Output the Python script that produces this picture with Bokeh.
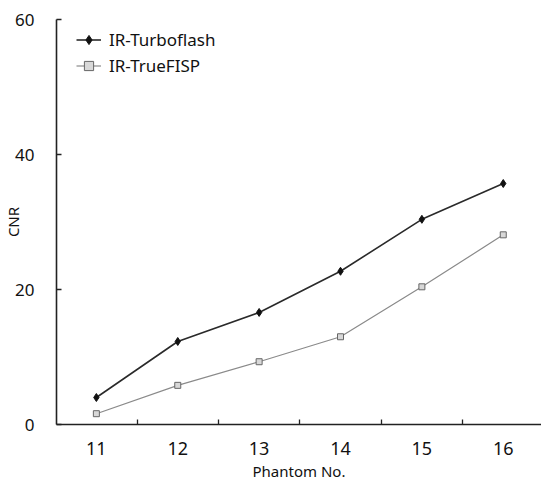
from bokeh.plotting import figure
from bokeh.models import FixedTicker, Range1d, Legend, LegendItem
from bokeh.embed import file_html
from bokeh.resources import INLINE

phantom = [11, 12, 13, 14, 15, 16]
turboflash = [4.0, 12.3, 16.6, 22.7, 30.4, 35.7]
truefisp = [1.6, 5.8, 9.3, 13.0, 20.4, 28.1]
y_ticks = [0, 20, 40, 60]
x_minor = [11.5, 12.5, 13.5, 14.5, 15.5]
x_title = "Phantom No."
y_title = "CNR"

FONT = "Noto Sans"

p = figure(width=541, height=490, output_backend="svg", toolbar_location=None,
           x_range=Range1d(10.51, 16.47), y_range=Range1d(0, 60),
           min_border_left=55, min_border_right=0, min_border_top=19, min_border_bottom=66)
p.outline_line_color = None
p.xgrid.grid_line_color = None
p.ygrid.grid_line_color = None
p.background_fill_color = "white"
p.border_fill_color = "white"

l1 = p.line(phantom, turboflash, line_color="#2a2a2a", line_width=1.6)
m1 = p.scatter(phantom, turboflash, marker="diamond", size=8, fill_color="#111111", line_color="#111111")
l2 = p.line(phantom, truefisp, line_color="#8a8a8a", line_width=1.2)
m2 = p.scatter(phantom, truefisp, marker="square", size=6, fill_color="#d8d8d8", line_color="#666666", line_width=1)

xa = p.xaxis[0]
xa.ticker = FixedTicker(ticks=phantom, minor_ticks=x_minor)
xa.major_tick_in = 0
xa.major_tick_out = 0
xa.minor_tick_in = 5
xa.minor_tick_out = 0
xa.minor_tick_line_color = "#222222"
xa.minor_tick_line_width = 1.3
xa.axis_line_color = "#222222"
xa.axis_line_width = 1.6
xa.major_label_standoff = 17
xa.major_label_text_font = FONT
xa.major_label_text_font_size = "18px"
xa.major_label_text_color = "#111111"
xa.axis_label = x_title
xa.axis_label_text_font = FONT
xa.axis_label_text_font_size = "15px"
xa.axis_label_text_font_style = "normal"
xa.axis_label_text_color = "#111111"
xa.axis_label_standoff = 3

ya = p.yaxis[0]
ya.ticker = FixedTicker(ticks=y_ticks, minor_ticks=[])
ya.major_tick_in = 5
ya.major_tick_out = 0
ya.major_tick_line_color = "#222222"
ya.major_tick_line_width = 1.3
ya.axis_line_color = "#222222"
ya.axis_line_width = 1.6
ya.major_label_standoff = 22
ya.major_label_text_font = FONT
ya.major_label_text_font_size = "17px"
ya.major_label_text_color = "#111111"
ya.axis_label = y_title
ya.axis_label_text_font = FONT
ya.axis_label_text_font_size = "15px"
ya.axis_label_text_font_style = "normal"
ya.axis_label_text_color = "#111111"
ya.axis_label_standoff = -11

legend = Legend(items=[LegendItem(label="IR-Turboflash", renderers=[l1, m1]),
                       LegendItem(label="IR-TrueFISP", renderers=[l2, m2])],
                location=(20, 347))
legend.padding = 0
legend.margin = 0
legend.spacing = 3
legend.glyph_width = 25
legend.glyph_height = 23
legend.label_height = 23
legend.label_standoff = 8
legend.label_text_font = FONT
legend.label_text_font_size = "17px"
legend.label_text_color = "#111111"
legend.border_line_color = None
legend.background_fill_alpha = 0
p.add_layout(legend)

open("out.html", "w").write(file_html(p, INLINE))
